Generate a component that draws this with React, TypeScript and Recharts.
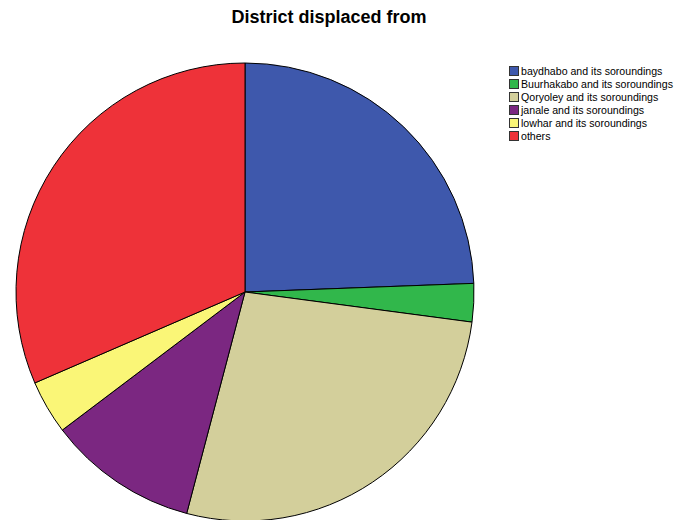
import React from "react";
import { PieChart, Pie, Cell } from "recharts";

const categories = [
  "baydhabo and its soroundings",
  "Buurhakabo and its soroundings",
  "Qoryoley and its soroundings",
  "janale and its soroundings",
  "lowhar and its soroundings",
  "others",
];
const values = [24.4, 2.7, 27.0, 10.6, 3.8, 31.5];
const colors = ["#3E58AC", "#31B74B", "#D3CF9B", "#7B2781", "#FAF677", "#EE3239"];

const data = categories.map((name, i) => ({ name, value: values[i] }));

export default function App() {
  return (
    <div style={{ position: "absolute", left: 0, top: 0, width: 688, height: 520, background: "#fff", fontFamily: "'Liberation Sans', Arial, sans-serif" }}>
      <div style={{ position: "absolute", left: 0, width: 658, top: 7, textAlign: "center", fontWeight: "bold", fontSize: 18, color: "#000" }}>
        District displaced from
      </div>
      <div style={{ position: "absolute", left: 0, top: 0 }}>
        <PieChart width={688} height={520} margin={{ top: 0, right: 0, bottom: 0, left: 0 }}>
          <Pie
            data={data}
            dataKey="value"
            nameKey="name"
            cx={245}
            cy={292}
            outerRadius={229}
            startAngle={90}
            endAngle={-270}
            stroke="#000"
            strokeWidth={1}
            isAnimationActive={false}
          >
            {data.map((d, i) => (
              <Cell key={d.name} fill={colors[i]} />
            ))}
          </Pie>
        </PieChart>
      </div>
      <div style={{ position: "absolute", left: 509, top: 64 }}>
        {categories.map((c, i) => (
          <div key={c} style={{ display: "flex", alignItems: "center", height: 13, fontSize: 10.6, color: "#000" }}>
            <div style={{ width: 10, height: 10, background: colors[i], border: "1px solid #333", marginRight: 2, boxSizing: "border-box" }} />
            <span>{c}</span>
          </div>
        ))}
      </div>
    </div>
  );
}
